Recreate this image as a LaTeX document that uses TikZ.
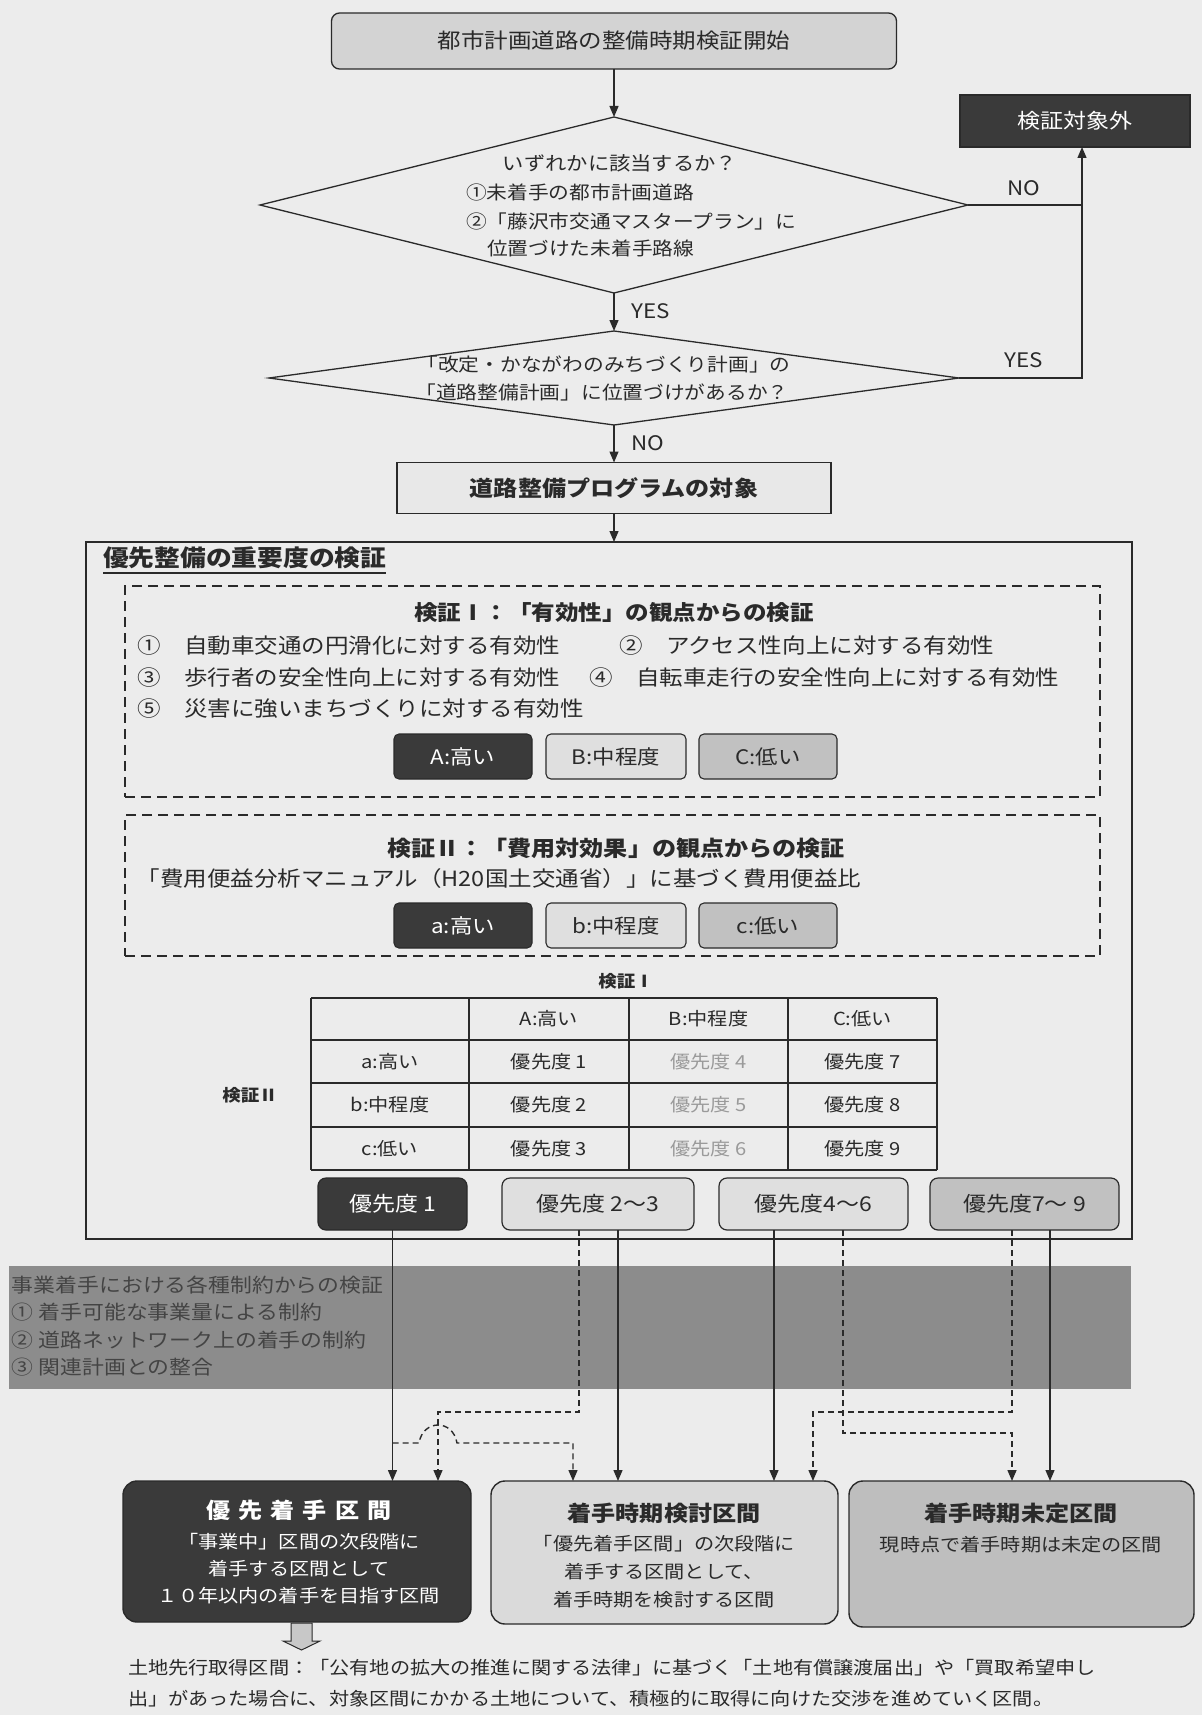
\documentclass[tikz,border=0pt]{standalone}
\usepackage{fontspec}
\setmainfont{Noto Sans CJK JP}[FakeStretch=1.12]
\usetikzlibrary{arrows.meta,shapes.geometric}
\definecolor{bg}{HTML}{ECECEC}
\definecolor{startfill}{HTML}{D3D3D3}
\definecolor{dark}{HTML}{3A3A3A}
\definecolor{light}{HTML}{DFDFDF}
\definecolor{mid}{HTML}{C1C1C1}
\definecolor{band}{HTML}{8C8C8C}
\definecolor{bandtext}{HTML}{444444}
\definecolor{progfill}{HTML}{E8E8E8}
\definecolor{ink}{HTML}{2A2A2A}
\definecolor{faint}{HTML}{9A9A9A}
\definecolor{bfill}{HTML}{DADADA}
\definecolor{cfill}{HTML}{BEBEBE}
\definecolor{hollow}{HTML}{C8C8C8}
\newcommand\fz[1]{\fontsize{#1}{#1}\selectfont}
\tikzset{
  every node/.style={inner sep=0pt, outer sep=0pt, text=ink},
  ln/.style={line width=1.3pt, draw=ink},
  arr/.style={-{Triangle[length=11pt,width=9pt]}},
  dsh/.style={line width=1.4pt, draw=ink, dash pattern=on 6pt off 4pt},
  boxl/.style={draw=ink, line width=1.3pt},
  dbox/.style={draw=ink, line width=1.9pt, dash pattern=on 10pt off 6pt},
  btn/.style={draw=ink, line width=1.1pt, rounded corners=5pt, minimum height=45pt, font=\fz{20}},
  pbox/.style={draw=ink, line width=1.2pt, rounded corners=8pt, minimum height=52pt, font=\fz{20.5}},
  bbox/.style={draw=ink, line width=1.4pt, rounded corners=14pt},
  tbl/.style={line width=1.8pt, draw=ink},
  tc/.style={font=\fz{18}},
}
\begin{document}
\begin{tikzpicture}[x=1pt,y=-1pt]
\useasboundingbox (0,0) rectangle (1202,1715);
\fill[bg] (0,0) rectangle (1202,1715);

% ---------- top flow ----------
\node[boxl, fill=startfill, rounded corners=8pt, minimum width=565pt, minimum height=56pt, font=\fz{21}] (start) at (614,41) {都市計画道路の整備時期検証開始};

\node[diamond, boxl, minimum width=708pt, minimum height=176pt] (d1) at (614,205) {};
\node[font=\fz{19}] (q1t) at (620,163) {いずれかに該当するか？};
\node[font=\fz{18.5}, anchor=west] (q1a) at (466,192) {①未着手の都市計画道路};
\node[font=\fz{18.5}, anchor=west] (q1b) at (466,221) {②「藤沢市交通マスタープラン」に};
\node[font=\fz{18.5}, anchor=west] (q1c) at (487,248) {位置づけた未着手路線};

\node[boxl, fill=dark, minimum width=230pt, minimum height=52pt, font=\fz{20.5}, text=white] (out) at (1075,121) {検証対象外};

\node[diamond, boxl, minimum width=690pt, minimum height=94pt] (d2) at (614,378) {};
\node[font=\fz{18.5}] (q2a) at (604,364) {「改定・かながわのみちづくり計画」の};
\node[font=\fz{18.5}] (q2b) at (602,392) {「道路整備計画」に位置づけがあるか？};

\node[boxl, fill=progfill, minimum width=434pt, minimum height=51pt, font=\fz{21.5}\bfseries] (prog) at (614,488) {道路整備プログラムの対象};

\draw[ln,arr] (start.south) -- (d1.north);
\draw[ln,arr] (d1.south) -- (d2.north);
\draw[ln,arr] (d2.south) -- (prog.north);
\draw[ln,arr] (d1.east) -| ([xshift=7pt]out.south);
\draw[ln] (d2.east) -| ([xshift=7pt]out.south |- d1.east);

\node[font=\fz{20}] (lno1) at (1024,188) {NO};
\node[font=\fz{20}] (lyes1) at (651,311) {YES};
\node[font=\fz{20}] (lyes2) at (1024,360) {YES};
\node[font=\fz{20}] (lno2) at (648,443) {NO};

% ---------- outer box ----------
\node[boxl, minimum width=1046pt, minimum height=697pt] (outer) at (609,890.5) {};
\draw[ln,arr] (prog.south) -- (prog.south |- outer.north);
\node[font=\fz{23}\bfseries, anchor=west] (ttl) at (103,558) {優先整備の重要度の検証};
\draw[line width=1.6pt, draw=ink] ([yshift=-4pt]ttl.south west) -- ([yshift=-4pt]ttl.south east);

% dashed box 1
\node[dbox, minimum width=975pt, minimum height=211pt] (k1) at (612.5,691.5) {};
\node[font=\fz{21}\bfseries] (k1t) at (614,613) {検証Ⅰ：「有効性」の観点からの検証};
\node[font=\fz{21}, anchor=west] (k1a) at (137,646) {①　自動車交通の円滑化に対する有効性};
\node[font=\fz{21}, anchor=west] (k1b) at (619,646) {②　アクセス性向上に対する有効性};
\node[font=\fz{21}, anchor=west] (k1c) at (137,678) {③　歩行者の安全性向上に対する有効性};
\node[font=\fz{21}, anchor=west] (k1d) at (589,678) {④　自転車走行の安全性向上に対する有効性};
\node[font=\fz{21}, anchor=west] (k1e) at (137,709) {⑤　災害に強いまちづくりに対する有効性};
\node[btn, fill=dark, text=white, minimum width=138pt] (bA) at (463,756.5) {A:高い};
\node[btn, fill=light, minimum width=140pt] (bB) at (616,756.5) {B:中程度};
\node[btn, fill=mid, minimum width=138pt] (bC) at (768,756.5) {C:低い};

% dashed box 2
\node[dbox, minimum width=975pt, minimum height=141pt] (k2) at (612.5,885.5) {};
\node[font=\fz{21.5}\bfseries] (k2t) at (616,848) {検証Ⅱ：「費用対効果」の観点からの検証};
\node[font=\fz{21}] (k2a) at (499,879) {「費用便益分析マニュアル（H20国土交通省）」に基づく費用便益比};
\node[btn, fill=dark, text=white, minimum width=138pt] (ba) at (463,925.5) {a:高い};
\node[btn, fill=light, minimum width=140pt] (bb) at (616,925.5) {b:中程度};
\node[btn, fill=mid, minimum width=138pt] (bc) at (768,925.5) {c:低い};

% table
\node[font=\fz{16.5}\bfseries] (tI) at (626,981) {検証Ⅰ};
\node[font=\fz{16.5}\bfseries] (tII) at (250,1095) {検証Ⅱ};
\foreach \x in {311,469,629,788,937} \draw[tbl] (\x,998) -- (\x,1170);
\foreach \y in {998,1040,1083,1127,1170} \draw[tbl] (311,\y) -- (937,\y);
\node[tc] (hA) at (549,1019) {A:高い};
\node[tc] (hB) at (708.5,1019) {B:中程度};
\node[tc] (hC) at (862.5,1019) {C:低い};
\node[tc] (ra) at (390,1061.5) {a:高い};
\node[tc] (rb) at (390,1105) {b:中程度};
\node[tc] (rc) at (390,1148.5) {c:低い};
\node[tc] (c1) at (549,1061.5) {優先度 1};
\node[tc] (c2) at (549,1105) {優先度 2};
\node[tc] (c3) at (549,1148.5) {優先度 3};
\node[tc, text=faint] (c4) at (708.5,1061.5) {優先度 4};
\node[tc, text=faint] (c5) at (708.5,1105) {優先度 5};
\node[tc, text=faint] (c6) at (708.5,1148.5) {優先度 6};
\node[tc] (c7) at (862.5,1061.5) {優先度 7};
\node[tc] (c8) at (862.5,1105) {優先度 8};
\node[tc] (c9) at (862.5,1148.5) {優先度 9};

% priority boxes
\node[pbox, fill=dark, text=white, minimum width=149pt] (p1) at (392.5,1204) {優先度 1};
\node[pbox, fill=light, minimum width=192pt] (p2) at (598,1204) {優先度 2～3};
\node[pbox, fill=light, minimum width=189pt] (p3) at (813.5,1204) {優先度4～6};
\node[pbox, fill=mid, minimum width=189pt] (p4) at (1024.5,1204) {優先度7～ 9};

% ---------- constraint band ----------
\fill[band] (9,1266) rectangle (1131,1389);
\node[font=\fz{19.5}, text=bandtext, anchor=west] (g0) at (12,1285) {事業着手における各種制約からの検証};
\node[font=\fz{19.5}, text=bandtext, anchor=west] (g1) at (12,1312) {① 着手可能な事業量による制約};
\node[font=\fz{19.5}, text=bandtext, anchor=west] (g2) at (12,1340) {② 道路ネットワーク上の着手の制約};
\node[font=\fz{19.5}, text=bandtext, anchor=west] (g3) at (12,1367) {③ 関連計画との整合};

% ---------- result boxes ----------
\node[bbox, fill=dark, minimum width=348pt, minimum height=141pt] (b1) at (297,1551.5) {};
\node[bbox, fill=bfill, minimum width=347pt, minimum height=143pt] (b2) at (664.5,1552.5) {};
\node[bbox, fill=cfill, minimum width=345pt, minimum height=146pt] (b3) at (1021.5,1554) {};

\node[font=\fz{21.5}\bfseries, text=white] (b1t) at (299,1510) {優\hspace{8pt}先\hspace{8pt}着\hspace{8pt}手\hspace{8pt}区\hspace{8pt}間};
\node[font=\fz{18}, text=white] (b1a) at (299,1542) {「事業中」区間の次段階に};
\node[font=\fz{18}, text=white] (b1b) at (299,1569) {着手する区間として};
\node[font=\fz{18}, text=white] (b1c) at (299,1596) {１０年以内の着手を目指す区間};

\node[font=\fz{21.5}\bfseries] (b2t) at (664,1513) {着手時期検討区間};
\node[font=\fz{18}] (b2a) at (664,1544) {「優先着手区間」の次段階に};
\node[font=\fz{18}] (b2b) at (664,1572) {着手する区間として、};
\node[font=\fz{18}] (b2c) at (664,1600) {着手時期を検討する区間};

\node[font=\fz{21.5}\bfseries] (b3t) at (1021,1513) {着手時期未定区間};
\node[font=\fz{18}] (b3a) at (1021,1545) {現時点で着手時期は未定の区間};

% ---------- connectors from priorities ----------
\draw[ln,arr] (p1.south) -- (p1.south |- b1.north);
\draw[dsh,arr] ([xshift=-19pt]p2.south) |- (438,1412) -- (438,1412 |- b1.north);
\draw[dsh,arr] (p1.south |- 0,1443) -- (419,1443) .. controls (423,1419) and (453,1419) .. (457,1443) -- (573,1443) -- (573,1443 |- b2.north);
\draw[ln,arr] ([xshift=20pt]p2.south) -- ([xshift=20pt]p2.south |- b2.north);
\draw[ln,arr] ([xshift=-39.5pt]p3.south) -- ([xshift=-39.5pt]p3.south |- b2.north);
\draw[dsh,arr] ([xshift=-12.5pt]p4.south) |- (813,1412) -- (813,1412 |- b2.north);
\draw[dsh,arr] ([xshift=29.5pt]p3.south) |- (1012,1433) -- (1012,1433 |- b3.north);
\draw[ln,arr] ([xshift=25.5pt]p4.south) -- ([xshift=25.5pt]p4.south |- b3.north);

% hollow arrow
\draw[line width=1pt, draw=ink, fill=hollow] (291,1623) -- (312,1623) -- (312,1641) -- (320,1641) -- (301.5,1650) -- (283,1641) -- (291,1641) -- cycle;

% footnote
\node[font=\fz{18}, anchor=west] (n1) at (128,1668) {土地先行取得区間：「公有地の拡大の推進に関する法律」に基づく「土地有償譲渡届出」や「買取希望申し};
\node[font=\fz{18}, anchor=west] (n2) at (128,1699) {出」があった場合に、対象区間にかかる土地について、積極的に取得に向けた交渉を進めていく区間。};
\end{tikzpicture}
\end{document}
